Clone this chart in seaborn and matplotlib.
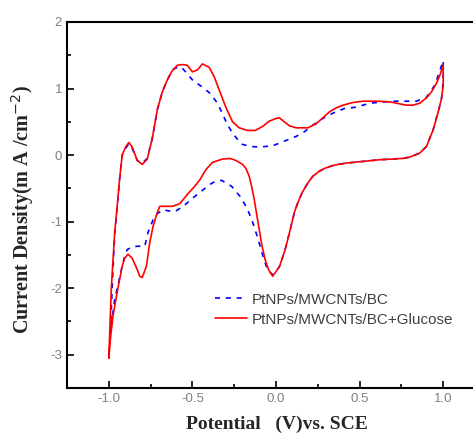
import numpy as np
import pandas as pd
import matplotlib
matplotlib.use("Agg")
import matplotlib.pyplot as plt
import seaborn as sns
from matplotlib.ticker import MultipleLocator

# CV loop for PtNPs/MWCNTs/BC + Glucose (anodic sweep then cathodic sweep)
glu_x = [-1.0, -0.985, -0.965, -0.95, -0.935, -0.92, -0.90, -0.88, -0.86, -0.83, -0.80, -0.77,
         -0.74, -0.71, -0.68, -0.65, -0.62, -0.59, -0.56, -0.53, -0.50, -0.47, -0.44, -0.40,
         -0.37, -0.34, -0.30, -0.26, -0.22, -0.17, -0.125, -0.08, -0.04, 0.0, 0.02, 0.05, 0.08,
         0.12, 0.19, 0.24, 0.28, 0.32, 0.36, 0.40, 0.46, 0.52, 0.60, 0.68, 0.74, 0.78, 0.82,
         0.86, 0.90, 0.93, 0.96, 0.98, 1.0,
         1.0, 0.99, 0.97, 0.94, 0.90, 0.86, 0.80, 0.76, 0.62, 0.50, 0.42, 0.35, 0.30, 0.26,
         0.22, 0.19, 0.155, 0.13, 0.11, 0.085, 0.055, 0.02, -0.02, -0.045, -0.065, -0.085,
         -0.10, -0.115, -0.13, -0.145, -0.16, -0.18, -0.20, -0.24, -0.275, -0.32, -0.38,
         -0.42, -0.455, -0.49, -0.53, -0.575, -0.62, -0.695, -0.71, -0.735, -0.755, -0.775,
         -0.80, -0.815, -0.83, -0.86, -0.885, -0.905, -0.92, -0.95, -0.975, -0.99, -1.0]
glu_y = [-3.05, -2.0, -1.17, -0.77, -0.35, 0.0, 0.12, 0.19, 0.12, -0.08, -0.14, -0.06,
         0.25, 0.68, 0.95, 1.13, 1.27, 1.35, 1.36, 1.35, 1.25, 1.28, 1.37, 1.32,
         1.18, 0.98, 0.72, 0.50, 0.41, 0.37, 0.37, 0.43, 0.51, 0.55, 0.56, 0.50, 0.44,
         0.41, 0.41, 0.47, 0.56, 0.65, 0.71, 0.75, 0.79, 0.81, 0.81, 0.80, 0.77, 0.75, 0.75,
         0.78, 0.86, 0.95, 1.08, 1.20, 1.35,
         1.05, 0.85, 0.65, 0.38, 0.13, 0.03, -0.03, -0.05, -0.07, -0.10, -0.12, -0.15, -0.19, -0.24,
         -0.32, -0.42, -0.57, -0.72, -0.86, -1.12, -1.42, -1.68, -1.82, -1.72, -1.57, -1.35,
         -1.12, -0.90, -0.67, -0.48, -0.32, -0.20, -0.14, -0.08, -0.05, -0.06, -0.11,
         -0.22, -0.37, -0.48, -0.59, -0.73, -0.77, -0.77, -0.86, -1.07, -1.31, -1.67,
         -1.84, -1.82, -1.72, -1.55, -1.49, -1.55, -1.67, -2.06, -2.42, -2.75, -3.05]

# CV loop for PtNPs/MWCNTs/BC (blank)
bc_x = [-0.99, -0.98, -0.965, -0.95, -0.935, -0.92, -0.90, -0.88, -0.86, -0.83, -0.80, -0.77,
        -0.74, -0.71, -0.68, -0.65, -0.62, -0.59, -0.565, -0.53, -0.50, -0.445, -0.395, -0.35,
        -0.32, -0.295, -0.265, -0.235, -0.20, -0.15, -0.10, -0.02, 0.04, 0.12, 0.17, 0.22,
        0.28, 0.34, 0.41, 0.48, 0.56, 0.70, 0.84, 0.90, 0.95, 0.98, 1.0,
        1.0, 0.99, 0.97, 0.94, 0.90, 0.86, 0.80, 0.76, 0.62, 0.50, 0.42, 0.35, 0.30, 0.26,
        0.22, 0.19, 0.155, 0.13, 0.11, 0.085, 0.055, 0.02, -0.02, -0.05, -0.065, -0.085,
        -0.105, -0.125, -0.145, -0.175, -0.215, -0.265, -0.325, -0.36, -0.395, -0.435,
        -0.495, -0.555, -0.605, -0.64, -0.675, -0.71, -0.735, -0.765, -0.785, -0.83, -0.86,
        -0.89, -0.905, -0.92, -0.945, -0.965, -0.99]
bc_y = [-2.65, -2.0, -1.2, -0.8, -0.35, 0.0, 0.10, 0.17, 0.10, -0.08, -0.12, -0.05,
        0.25, 0.68, 0.95, 1.13, 1.28, 1.32, 1.32, 1.22, 1.13, 1.03, 0.93, 0.78,
        0.62, 0.48, 0.35, 0.25, 0.16, 0.13, 0.12, 0.14, 0.20, 0.28, 0.35, 0.45,
        0.55, 0.63, 0.70, 0.72, 0.78, 0.81, 0.81, 0.87, 1.05, 1.27, 1.42,
        1.10, 0.85, 0.65, 0.38, 0.13, 0.03, -0.03, -0.05, -0.07, -0.10, -0.12, -0.15, -0.19, -0.24,
        -0.32, -0.42, -0.57, -0.72, -0.86, -1.12, -1.42, -1.68, -1.80, -1.72, -1.62, -1.46,
        -1.28, -1.12, -0.97, -0.79, -0.62, -0.47, -0.38, -0.39, -0.44, -0.52,
        -0.64, -0.77, -0.85, -0.84, -0.82, -0.88, -0.97, -1.16, -1.37, -1.37, -1.38,
        -1.42, -1.52, -1.67, -1.95, -2.17, -2.65]

bc = pd.DataFrame({"Potential": bc_x, "Current": bc_y})
glu = pd.DataFrame({"Potential": glu_x, "Current": glu_y})

sns.set_style("white")
plt.rcParams['font.family'] = ['Liberation Sans', 'DejaVu Sans']

fig = plt.figure(figsize=(4.73, 4.43), dpi=100)
ax = fig.add_axes([67 / 473, 1 - 388 / 443, (485 - 67) / 473, (388 - 22) / 443])

sns.lineplot(data=bc, x="Potential", y="Current", sort=False, estimator=None, ax=ax,
             color="#0000ff", linestyle=(0, (3, 3.5)), linewidth=1.2, label="PtNPs/MWCNTs/BC")
sns.lineplot(data=glu, x="Potential", y="Current", sort=False, estimator=None, ax=ax,
             color="#ff0000", linewidth=1.2, label="PtNPs/MWCNTs/BC+Glucose")

ax.set_xlim(-1.25, 1.25)
ax.set_ylim(-3.5, 2)
ax.xaxis.set_major_locator(MultipleLocator(0.5))
ax.xaxis.set_minor_locator(MultipleLocator(0.25))
ax.yaxis.set_major_locator(MultipleLocator(1))
ax.yaxis.set_minor_locator(MultipleLocator(0.5))
ax.tick_params(which='both', direction='in', colors='black', labelcolor='#808080',
               labelsize=9.5, bottom=True, left=True, top=False, right=False, width=1.2)
ax.tick_params(which='major', length=5)
ax.tick_params(which='minor', length=3)
ax.set_xticks([-1.0, -0.5, 0.0, 0.5, 1.0])
ax.set_xticklabels(["-1.0", "-0.5", "0.0", "0.5", "1.0"])
ax.set_yticks([-3, -2, -1, 0, 1, 2])
ax.set_yticklabels(["-3", "-2", "-1", "0", "1", "2"])
for s in ['left', 'bottom', 'top']:
    ax.spines[s].set_color('black')
    ax.spines[s].set_linewidth(1.5)
ax.spines['right'].set_visible(False)

ax.set_xlabel("Potential   (V)vs. SCE", family=['Liberation Serif'], fontweight='bold',
              fontsize=14)
ax.set_ylabel("Current Density(m A /cm$^{-2}$)", family=['Liberation Serif'], fontweight='bold',
              fontsize=14.5)
ax.xaxis.set_label_coords((277 - 67) / 418, -(416 - 388) / 366)
ax.yaxis.set_label_coords(-(67 - 36) / 418, (388 - 210) / 366)

ax.legend(loc='upper left', bbox_to_anchor=(207 / 473, 1 - 285 / 443),
          bbox_transform=fig.transFigure, frameon=False, fontsize=11, handlelength=2.1,
          handletextpad=0.3, labelspacing=0.4, borderpad=0, labelcolor='#404040')

plt.savefig("out.png", dpi=100)
